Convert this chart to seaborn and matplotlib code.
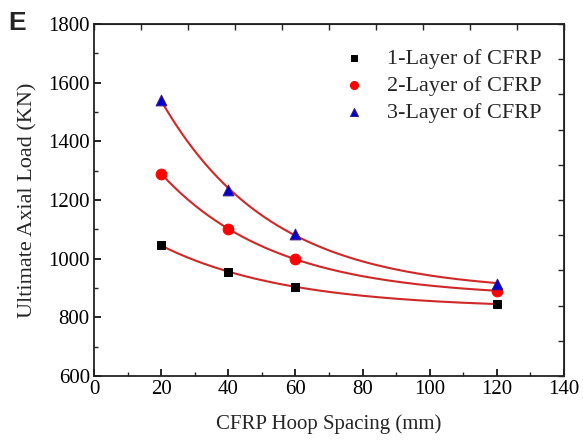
import numpy as np
import seaborn as sns
import matplotlib.pyplot as plt

# values
spacing = [20, 40, 60, 120]
layer1 = [1045, 955, 905, 845]
layer2 = [1290, 1100, 1000, 890]
layer3 = [1540, 1235, 1085, 915]
names = ['1-Layer of CFRP', '2-Layer of CFRP', '3-Layer of CFRP']
face = ['black', '#ff0000', '#0000cc']
edge = ['black', '#ff0000', '#3a1a8a']
marks = ['s', 'o', '^']
sizes = [40, 60, 60]


def exp_fit(x, y):
    # y = y0 + A*exp(-x/t), grid search on t, least squares for y0 and A
    x = np.asarray(x, float)
    y = np.asarray(y, float)
    best = None
    for t in np.linspace(5, 300, 3000):
        M = np.column_stack([np.ones_like(x), np.exp(-x / t)])
        coef, *_ = np.linalg.lstsq(M, y, rcond=None)
        err = np.sum((M @ coef - y) ** 2)
        if best is None or err < best[0]:
            best = (err, t, coef)
    _, t, (y0, a) = best
    xs = np.linspace(x.min(), x.max(), 200)
    return xs, y0 + a * np.exp(-xs / t)


sns.set_style('ticks')
plt.rcParams['font.family'] = ['Liberation Serif', 'DejaVu Serif']

fig = plt.figure(figsize=(5.83, 4.43), dpi=100)
ax = fig.add_axes([94 / 583, 67 / 443, 470 / 583, 352 / 443])

# fitted curves
for ys in [layer1, layer2, layer3]:
    xs, fit = exp_fit(spacing, ys)
    sns.lineplot(x=xs, y=fit, ax=ax, color='#d02828', linewidth=1.5, legend=False)

for ys, n, fc, ec, m, s in zip([layer1, layer2, layer3], names, face, edge, marks, sizes):
    sns.scatterplot(x=spacing, y=ys, ax=ax, color=fc, edgecolor=ec, marker=m, s=s,
                    linewidth=0.7, label=n, zorder=5)

ax.set_xlim(0, 140)
ax.set_ylim(600, 1800)
ax.set_xticks(np.arange(0, 141, 20))
ax.set_xticks(np.arange(0, 141, 10), minor=True)
ax.set_yticks(np.arange(600, 1801, 200))
ax.set_yticks(np.arange(600, 1801, 100), minor=True)
ax.tick_params(which='major', direction='in', length=5, width=1.2, labelsize=15, colors='black')
ax.tick_params(which='minor', direction='in', length=3, width=1.0)
ax.tick_params(axis='x', pad=3)
ax.tick_params(axis='y', pad=3)

for sp in ax.spines.values():
    sp.set_linewidth(1.3)
    sp.set_color('#222222')

top = ax.secondary_xaxis('top')
top.set_xticks(np.arange(0, 141, 14))
top.tick_params(direction='in', length=4, width=1.0, labeltop=False)
right = ax.secondary_yaxis('right')
right.set_yticks(np.arange(600, 1801, 120))
right.tick_params(direction='in', length=4, width=1.0, labelright=False)

ax.set_xlabel('CFRP Hoop Spacing (mm)', fontsize=15, labelpad=11)
ax.set_ylabel('Ultimate Axial Load (KN)', fontsize=16, labelpad=8)

leg = ax.legend(loc='upper left', bbox_to_anchor=(0.487, 0.957), frameon=False, fontsize=16,
                handletextpad=0.5, labelspacing=0.3, markerscale=0.75, borderaxespad=0)

fig.text(0.015, 0.948, 'E', fontsize=19, fontweight='heavy', family='Liberation Sans', va='center')

fig.savefig('out.png', dpi=100)
